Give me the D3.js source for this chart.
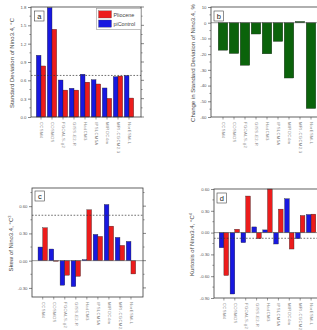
<!DOCTYPE html>
<html>
<head>
<meta charset="utf-8">
<script src="https://cdn.jsdelivr.net/npm/d3@7"></script>
<style>
  body { margin: 0; background: #fff; }
  svg { display: block; font-family: "Liberation Sans", Arial, sans-serif; }
</style>
</head>
<body>
<div id="viz"></div>
<script>
// model names along the x axis
const models = ["CCSM4", "COSMOS", "FGOALS-g2", "GISS-E2-R", "HadCM3", "IPSLCM5A", "MIROC4m", "MRI-CGCM2.3", "NorESM-L"];

// (a) standard deviation of Nino3.4
const sdControl  = [1.01, 1.79, 0.605, 0.47, 0.70, 0.61, 0.475, 0.66, 0.68];
const sdPliocene = [0.835, 1.435, 0.44, 0.44, 0.57, 0.54, 0.305, 0.67, 0.31];
const sdRef = 0.68;

// (b) change in standard deviation, %
const sdChange = [-17.5, -19.6, -27.1, -7.2, -19.8, -11.9, -35.2, 0.8, -54.6];

// (c) skew
const skewControl  = [0.15, 0.128, -0.27, -0.285, 0.011, 0.289, 0.618, 0.256, 0.212];
const skewPliocene = [0.362, -0.007, -0.16, -0.172, 0.56, 0.267, 0.38, 0.168, -0.146];
const skewRef = 0.5;

// (d) kurtosis
const kurtControl  = [-0.208, -0.845, -0.138, 0.078, 0.037, -0.157, 0.466, -0.083, 0.249];
const kurtPliocene = [-0.59, 0.046, 0.503, -0.083, 0.62, 0.323, -0.226, 0.235, 0.254];
const kurtRef = -0.078;

// tick values
const sdTicks   = [0, 0.3, 0.6, 0.9, 1.2, 1.5, 1.8];
const chgTicks  = [10, 0, -10, -20, -30, -40, -50, -60];
const skewTicks = [-0.3, 0, 0.3, 0.6];
const kurtTicks = [-0.9, -0.6, -0.3, 0, 0.3, 0.6];

const legendNames = ["Pliocene", "piControl"];

const RED = "#ec1c1c", BLUE = "#1818e0", GREEN = "#0b630b";
const AXIS = "#3a3a3a", TXT = "#555";

const svg = d3.select("#viz").append("svg")
  .attr("width", 317)
  .attr("height", 330);

// draw one panel: frame, axes, bars, dashed reference line
function drawPanel(p) {
  const g = svg.append("g");
  const y = d3.scaleLinear().domain(p.yDomain).range([p.bottom, p.top]).clamp(true);
  const x = d3.scaleLinear().domain([0, 10]).range(p.xRange);

  // left axis (labels + major/minor ticks)
  const yAxis = d3.axisLeft(y).tickValues(p.ticks).tickFormat(d3.format(p.fmt)).tickSize(3).tickPadding(1.5);
  const yAxisG = g.append("g").attr("transform", "translate(" + p.left + ",0)").call(yAxis);
  yAxisG.select(".domain").remove();
  yAxisG.selectAll("line").attr("stroke", AXIS).attr("stroke-width", 0.6);
  yAxisG.selectAll("text").attr("fill", TXT).style("font-size", "4.3px")
    .text(d => d3.format(p.fmt)(d).replace("−", "-"));

  // minor ticks, both sides
  const step = p.ticks[1] - p.ticks[0];
  const minors = [];
  for (let v = Math.min(...p.ticks) - step / 2; v <= p.yDomain[1] + 1e-9; v += Math.abs(step)) {
    if (v >= p.yDomain[0] - 1e-9) minors.push(v);
  }
  [p.left, p.right].forEach((xx, side) => {
    g.selectAll(null).data(minors).join("line")
      .attr("x1", xx).attr("x2", side ? xx + 1.6 : xx - 1.6)
      .attr("y1", d => y(d)).attr("y2", d => y(d))
      .attr("stroke", AXIS).attr("stroke-width", 0.5);
  });
  // right axis major ticks
  g.selectAll(null).data(p.ticks).join("line")
    .attr("x1", p.right).attr("x2", p.right + 3)
    .attr("y1", d => y(d)).attr("y2", d => y(d))
    .attr("stroke", AXIS).attr("stroke-width", 0.6);

  // bottom category ticks and labels
  g.selectAll(null).data(models).join("line")
    .attr("x1", (d, i) => x(i + 1)).attr("x2", (d, i) => x(i + 1))
    .attr("y1", p.bottom).attr("y2", p.bottom + 2.5)
    .attr("stroke", AXIS).attr("stroke-width", 0.5);
  g.selectAll(null).data(models).join("text")
    .attr("transform", (d, i) => "translate(" + (x(i + 1) + 0.2) + "," + (p.bottom + 5) + ") rotate(90)")
    .attr("dominant-baseline", "middle")
    .attr("fill", "#8a8a8a")
    .style("font-size", "4.2px")
    .style("letter-spacing", "0.35px")
    .text(d => d);

  // bars
  const barG = g.append("g");
  p.series.forEach(s => {
    barG.selectAll(null).data(s.values).join("rect")
      .attr("x", (d, i) => x(i + 1) + s.offset)
      .attr("width", s.width)
      .attr("y", d => Math.min(y(d), y(0)))
      .attr("height", d => Math.abs(y(d) - y(0)))
      .attr("fill", s.color)
      .attr("stroke", "#222")
      .attr("stroke-width", 0.35);
  });

  // zero line
  if (p.zeroLine) {
    g.append("line").attr("x1", p.left).attr("x2", p.right)
      .attr("y1", y(0)).attr("y2", y(0))
      .attr("stroke", "#555").attr("stroke-width", 0.6);
  }

  // dashed reference
  if (p.ref !== undefined) {
    g.append("line").attr("x1", p.left).attr("x2", p.right)
      .attr("y1", y(p.ref)).attr("y2", y(p.ref))
      .attr("stroke", "#333").attr("stroke-width", 0.7)
      .attr("stroke-dasharray", "1.6,1.6");
  }

  // frame
  g.append("rect")
    .attr("x", p.left).attr("y", p.top)
    .attr("width", p.right - p.left).attr("height", p.bottom - p.top)
    .attr("fill", "none").attr("stroke", AXIS).attr("stroke-width", 0.8);

  // panel letter
  g.append("rect")
    .attr("x", p.left + p.tag[0]).attr("y", p.top + p.tag[1])
    .attr("width", 9.5).attr("height", 10)
    .attr("fill", "#fff").attr("stroke", "#444").attr("stroke-width", 0.6);
  g.append("text")
    .attr("x", p.left + p.tag[0] + 4.75).attr("y", p.top + p.tag[1] + 7.6)
    .attr("text-anchor", "middle").attr("fill", "#222")
    .style("font-size", "7.5px")
    .text(p.letter);

  // y label
  const lab = g.append("text")
    .attr("transform", "translate(" + p.labelX + "," + ((p.top + p.bottom) / 2 + 1) + ") rotate(-90)")
    .attr("text-anchor", "middle")
    .attr("fill", "#444")
    .style("font-size", "6px")
    .text(p.label);
  if (p.sup) {
    lab.append("tspan").attr("dy", "-2").style("font-size", "4px").text(p.sup);
  }
  return {x, y, g};
}

const pair = (ctl, pli) => [
  {values: ctl, color: BLUE, offset: -4.7, width: 4.7},
  {values: pli, color: RED, offset: 0, width: 4.7}
];

const a = drawPanel({
  left: 31, right: 141, top: 7, bottom: 117, xRange: [30, 140],
  yDomain: [0, 1.8], ticks: sdTicks, fmt: ".1f",
  series: pair(sdControl, sdPliocene), ref: sdRef,
  letter: "a", tag: [3.5, 4], labelX: 14,
  label: "Standard Deviation of Nino3.4, °C"
});

// legend for panel a
const legG = a.g.append("g");
legG.append("rect").attr("x", 96.5).attr("y", 8.5).attr("width", 44.5).attr("height", 21)
  .attr("fill", "#fff").attr("stroke", "#999").attr("stroke-width", 0.6);
[RED, BLUE].forEach((c, i) => {
  legG.append("rect").attr("x", 98.5).attr("y", 10.8 + i * 9.2).attr("width", 13).attr("height", 7.2)
    .attr("fill", c).attr("stroke", "#555").attr("stroke-width", 0.3);
  legG.append("text").attr("x", 113.5).attr("y", 16.6 + i * 9.2)
    .attr("fill", "#444").style("font-size", "5.4px").text(legendNames[i]);
});

drawPanel({
  left: 211, right: 323, top: 7, bottom: 117, xRange: [212, 322],
  yDomain: [-60, 10], ticks: chgTicks, fmt: "d",
  series: [{values: sdChange, color: GREEN, offset: -4.8, width: 9.6}],
  zeroLine: true,
  letter: "b", tag: [3, 4], labelX: 194.5,
  label: "Change in Standard Deviation of Nino3.4, %"
});

drawPanel({
  left: 32, right: 143, top: 188, bottom: 297, xRange: [31.7, 142],
  yDomain: [-0.4, 0.8], ticks: skewTicks, fmt: ".2f",
  series: pair(skewControl, skewPliocene), ref: skewRef, zeroLine: true,
  letter: "c", tag: [3, 3], labelX: 13,
  label: "Skew of Nino3.4, °C", sup: "3"
});

drawPanel({
  left: 214, right: 325, top: 189, bottom: 298, xRange: [213, 322],
  yDomain: [-0.9, 0.6], ticks: kurtTicks, fmt: ".2f",
  series: pair(kurtControl, kurtPliocene), ref: kurtRef, zeroLine: true,
  letter: "d", tag: [3, 4], labelX: 194,
  label: "Kurtosis of Nino3.4, °C", sup: "4"
});
</script>
</body>
</html>
